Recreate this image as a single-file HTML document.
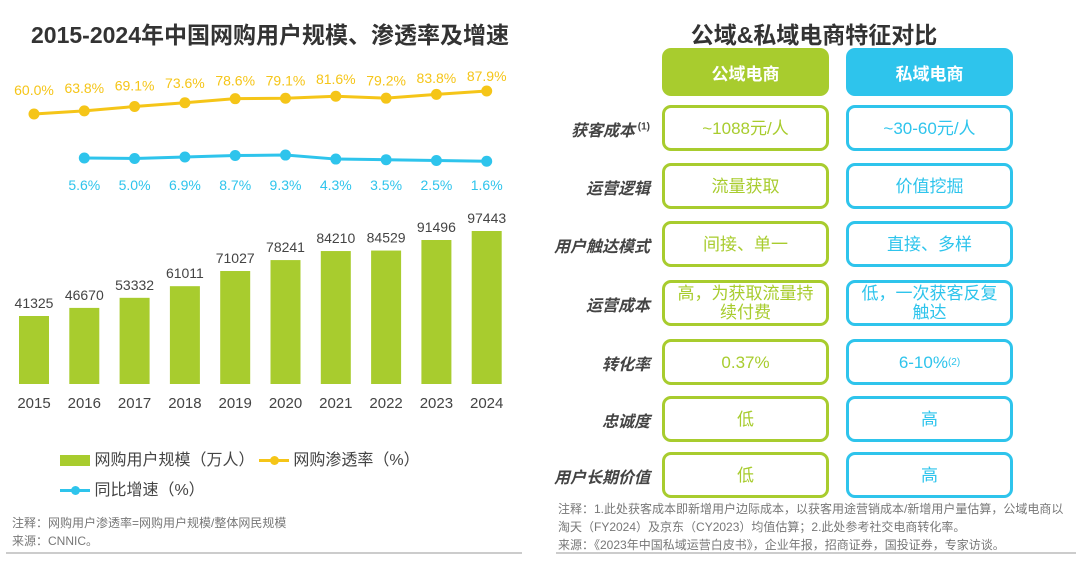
<!DOCTYPE html>
<html><head><meta charset="utf-8"><style>
body{margin:0;width:1080px;height:561px;background:#fff;font-family:"Liberation Sans","Noto Sans CJK SC",sans-serif;overflow:hidden;position:relative}
.abs{position:absolute}
.box{position:absolute;box-sizing:border-box;border:3px solid;border-radius:9px;display:flex;align-items:center;justify-content:center;text-align:center;font-size:17px;line-height:19px;background:#fff}
.g{border-color:#a8cc2e;color:#a8cc2e}
.b{border-color:#2ec4ec;color:#2ec4ec}
.lab{position:absolute;right:430px;width:120px;text-align:right;font-size:16px;font-weight:bold;font-style:italic;color:#444}
.hd{position:absolute;border-radius:9px;color:#fff;font-size:17px;font-weight:bold;display:flex;align-items:center;justify-content:center}
.note{position:absolute;font-size:12px;color:#777;line-height:18px}
.mk{display:inline-block;width:30px;height:3px;vertical-align:middle;position:relative}
.mk i{position:absolute;left:11px;top:-3px;width:9px;height:9px;border-radius:50%}
</style></head><body>
<div class="abs" style="left:0;width:540px;top:16px;text-align:center;font-size:23px;font-weight:bold;color:#333">2015-2024年中国网购用户规模、渗透率及增速</div>
<svg id="chart" class="abs" style="left:0;top:0" width="540" height="440"></svg>
<div class="abs" style="left:60px;top:446px;font-size:16px;color:#444;line-height:30px">
<div><span style="display:inline-block;width:30px;height:11px;background:#a8cc2e;vertical-align:middle"></span> 网购用户规模（万人） <span class="mk" style="background:#f5c518"><i style="background:#f5c518"></i></span> 网购渗透率（%）</div>
<div><span class="mk" style="background:#2ec4ec"><i style="background:#2ec4ec"></i></span> 同比增速（%）</div>
</div>
<div class="note" style="left:12px;top:514px">注释：网购用户渗透率=网购用户规模/整体网民规模<br>来源：CNNIC。</div>
<div class="abs" style="left:6px;top:552px;width:516px;height:2px;background:#ccc"></div>

<div class="abs" style="left:544px;width:540px;top:16px;text-align:center;font-size:23px;font-weight:bold;color:#333">公域&amp;私域电商特征对比</div>
<div class="hd" style="left:662px;top:48px;width:167px;height:48px;background:#a8cc2e">公域电商</div>
<div class="hd" style="left:846px;top:48px;width:167px;height:48px;background:#2ec4ec">私域电商</div>
<div id="rows"></div>
<div class="note" style="left:558px;top:500px;width:515px">注释：1.此处获客成本即新增用户边际成本，以获客用途营销成本/新增用户量估算，公域电商以淘天（FY2024）及京东（CY2023）均值估算；2.此处参考社交电商转化率。<br>来源：《2023年中国私域运营白皮书》，企业年报，招商证券，国投证券，专家访谈。</div>
<div class="abs" style="left:556px;top:552px;width:520px;height:2px;background:#ccc"></div>
<script>
const years=["2015","2016","2017","2018","2019","2020","2021","2022","2023","2024"];
const users=[41325,46670,53332,61011,71027,78241,84210,84529,91496,97443];
const pen=[60.0,63.8,69.1,73.6,78.6,79.1,81.6,79.2,83.8,87.9];
const growth=[null,5.6,5.0,6.9,8.7,9.3,4.3,3.5,2.5,1.6];
const svg=document.getElementById('chart');const NS='http://www.w3.org/2000/svg';
function mk(t,a,txt){const e=document.createElementNS(NS,t);for(const k in a)e.setAttribute(k,a[k]);if(txt!=null)e.textContent=txt;svg.appendChild(e);return e;}
const x=i=>34+i*50.3;
const yb=v=>384-(v+3568)*0.0015147;
const yp=v=>114-(v-60)*0.824;
const yg=v=>162.5-v*0.8;
users.forEach((v,i)=>{const r=mk('rect',{x:x(i)-15,y:yb(v),width:30,height:384-yb(v),fill:'#a8cc2e'});

const t=mk('text',{x:x(i),y:yb(v)-8,'text-anchor':'middle','font-size':14,fill:'#444'},v);

const yl=mk('text',{x:x(i),y:408,'text-anchor':'middle','font-size':15,fill:'#444'},years[i]);
});
function line(vals,fy,col,name){const pts=[];vals.forEach((v,i)=>{if(v!=null)pts.push(x(i)+','+fy(v));});
const p=mk('polyline',{points:pts.join(' '),fill:'none',stroke:col,'stroke-width':3});

vals.forEach((v,i)=>{if(v==null)return;const c=mk('circle',{cx:x(i),cy:fy(v),r:5.5,fill:col});
});}
line(pen,yp,'#f5c518','penetration');line(growth,yg,'#2ec4ec','growth');
pen.forEach((v,i)=>{const t=mk('text',{x:x(i),y:95-(v-60)*0.5,'text-anchor':'middle','font-size':14,fill:'#f5c518'},v.toFixed(1)+'%');
});
growth.forEach((v,i)=>{if(v==null)return;const t=mk('text',{x:x(i),y:190,'text-anchor':'middle','font-size':14,fill:'#2ec4ec'},v.toFixed(1)+'%');
});

const rowLabels=['获客成本','运营逻辑','用户触达模式','运营成本','转化率','忠诚度','用户长期价值'];
const pubVals=['~1088元/人','流量获取','间接、单一','高，为获取流量持续付费','0.37%','低','低'];
const privVals=['~30-60元/人','价值挖掘','直接、多样','低，一次获客反复触达','6-10% <sup style="font-size:10px">(2)</sup>','高','高'];
const tops=[105,163,221,280,339,396,452];
let h='';rowLabels.forEach((l,i)=>{const t=tops[i];
h+=`<div class="lab" style="top:${t+12}px">${l}${i==0?'<sup style="font-size:10px;font-style:normal"> (1)</sup>':''}</div>`;
h+=`<div class="box g" style="left:662px;top:${t}px;width:167px;height:46px;${i==3?'padding:0 10px':''}">${pubVals[i]}</div>`;
h+=`<div class="box b" style="left:846px;top:${t}px;width:167px;height:46px;${i==3?'padding:0 10px':''}">${privVals[i]}</div>`;});
document.getElementById('rows').innerHTML=h;
</script>
</body></html>
